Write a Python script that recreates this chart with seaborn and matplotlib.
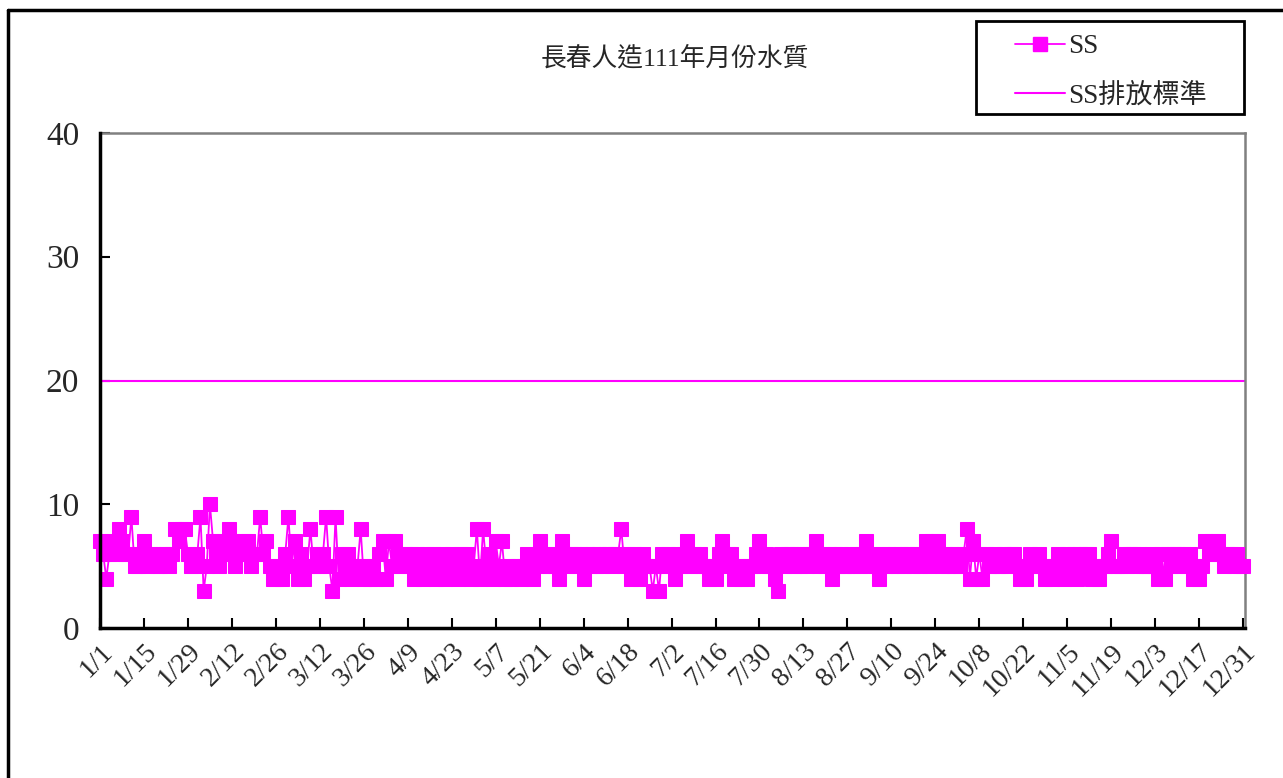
import numpy as np
import pandas as pd
import matplotlib
matplotlib.use("Agg")
import matplotlib.pyplot as plt
from matplotlib.lines import Line2D
from matplotlib.patches import Rectangle
import seaborn as sns

# ---- data ----
jan = [7,6,4,6,7,6,8,7,6,6,9,5,5,6,7,5,6,6,5,5,6,6,5,6,8,7,8,8,6,5,5]
feb = [6,9,3,5,10,7,6,5,7,6,8,7,5,6,6,7,7,5,6,6,9,6,7,5,4,4,5,4]
mar = [6,9,5,7,4,6,4,5,8,5,6,5,6,9,5,3,9,4,6,5,6,4,5,5,8,4,5,4,5,4,6]
apr = [7,4,7,5,7,6,5,6,5,6,4,6,5,4,6,5,6,4,5,6,4,5,6,5,4,6,5,6,4,5]
may = [8,4,8,5,6,4,7,5,7,4,5,4,5,5,4,5,6,5,4,6,7,5,6,5,6,5,4,7,6,5,6]
jun = [6,5,6,4,6,5,6,5,6,5,6,6,5,6,6,8,5,6,4,6,5,4,6,5,5,3,5,3,6,5]
jul = [6,5,4,6,5,6,7,5,6,5,6,5,5,4,5,4,6,7,5,6,6,4,5,4,5,4,5,5,6,7,5]
aug = [6,5,5,4,3,6,5,6,6,5,6,5,6,5,6,6,7,5,6,5,6,4,6,5,6,5,5,6,5,6,5]
sep = [6,7,5,6,5,4,6,5,6,5,6,5,6,5,6,6,5,6,5,6,7,5,7,6,7,5,6,5,6,5]
oct_ = [6,5,6,8,4,7,4,6,4,6,5,5,6,5,5,6,5,6,6,5,4,5,4,6,5,5,6,5,4,5,4]
nov = [5,6,5,4,6,5,6,4,6,5,6,6,4,5,4,5,5,6,7,5,5,5,6,5,6,6,5,6,5,5]
dec = [5,6,5,4,6,4,6,5,6,6,5,6,5,6,4,5,4,5,7,6,7,6,7,6,5,6,6,5,6,5,5]
ss_values = jan + feb + mar + apr + may + jun + jul + aug + sep + oct_ + nov + dec
ss_standard = 20

tick_labels = ["1/1", "1/15", "1/29", "2/12", "2/26", "3/12", "3/26", "4/9", "4/23",
               "5/7", "5/21", "6/4", "6/18", "7/2", "7/16", "7/30", "8/13", "8/27",
               "9/10", "9/24", "10/8", "10/22", "11/5", "11/19", "12/3", "12/17", "12/31"]
y_ticks = [0, 10, 20, 30, 40]
title = "長春人造111年月份水質"
series_label = "SS"
standard_label = "SS排放標準"

# ---- build ----
days = np.arange(len(ss_values))
df = pd.DataFrame({"day": days, "SS": ss_values})

sns.set_theme(style="white")
plt.rcParams["font.family"] = ["Liberation Serif", "Noto Sans CJK TC", "DejaVu Sans"]

W, H = 1283, 778
fig = plt.figure(figsize=(W / 100, H / 100), dpi=100)
ax = fig.add_axes([100 / W, 1 - 628 / H, (1245 - 100) / W, (628 - 133) / H])

mag = "#FF00FF"
sns.lineplot(data=df, x="day", y="SS", ax=ax, color=mag, linewidth=1.3,
             marker="s", markersize=10.5, markeredgecolor=mag, markerfacecolor=mag,
             label=series_label, legend=False, clip_on=False, zorder=3)
ax.axhline(ss_standard, color=mag, linewidth=1.5, label=standard_label)

ax.set_xlim(0, len(ss_values) - 0.4)
ax.set_ylim(0, 40)
ax.set_yticks(y_ticks)
ax.set_yticklabels([str(v) for v in y_ticks], fontsize=24)
ax.set_xticks(days[::14])
ax.set_xticklabels(tick_labels, rotation=45, ha="right", rotation_mode="anchor", fontsize=20)
ax.set_xlabel("")
ax.set_ylabel("")
ax.tick_params(axis="both", direction="in", length=7, width=1.5, color="black",
               bottom=True, left=True)
ax.tick_params(axis="y", pad=15)
ax.tick_params(axis="x", pad=8)

for side in ["left", "bottom"]:
    ax.spines[side].set_color("black")
    ax.spines[side].set_linewidth(2.5)
    ax.spines[side].set_zorder(4)
for side in ["right", "top"]:
    ax.spines[side].set_color("#808080")
    ax.spines[side].set_linewidth(1.8)
ax.grid(False)

fig.text(675 / W, 1 - 58 / H, title, ha="center", va="center", fontsize=18.5)

# legend box
fig.add_artist(Rectangle((976 / W, 1 - 114 / H), (1244 - 976) / W, (114 - 21) / H,
                         transform=fig.transFigure, facecolor="white",
                         edgecolor="black", linewidth=2, zorder=5))
handles = [Line2D([], [], color=mag, linewidth=1.3, marker="s", markersize=10.5),
           Line2D([], [], color=mag, linewidth=1.5)]
leg = fig.legend(handles, [series_label, standard_label], loc="upper left",
                 bbox_to_anchor=(1015 / W, 1 - 34 / H), fontsize=19.5, frameon=False,
                 handlelength=1.85, borderpad=0, labelspacing=0.9,
                 borderaxespad=0, handletextpad=0.12)
leg.set_zorder(6)

# outer frame of the figure
fig.add_artist(Line2D([8 / W, 8 / W], [0, 1 - 10 / H], transform=fig.transFigure,
                      color="black", linewidth=2.5))
fig.add_artist(Line2D([8 / W, 1], [1 - 10 / H, 1 - 10 / H], transform=fig.transFigure,
                      color="black", linewidth=2.5))

fig.savefig("out.png", dpi=100)
